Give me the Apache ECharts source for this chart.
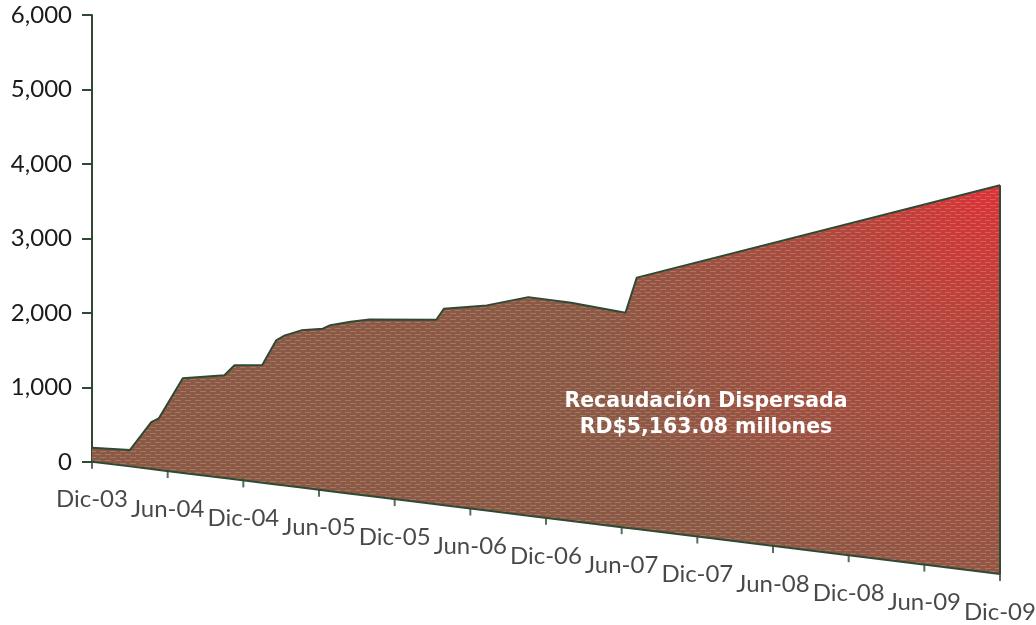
<!DOCTYPE html>
<html>
<head>
<meta charset="utf-8">
<script src="https://cdn.jsdelivr.net/npm/echarts@6/dist/echarts.min.js"></script>
<style>
  html, body { margin: 0; padding: 0; background: #ffffff; }
  #chart { width: 1036px; height: 625px; }
</style>
</head>
<body>
<div id="chart"></div>
<script>
// ---- Data ----
// month offset from Dic-03 for each data point
const meses = [0, 3.0, 4.7, 5.3, 7.2, 10.5, 11.3, 13.5, 14.6, 15.3, 16.6, 18.3, 18.9, 20.5, 22.0, 27.3, 27.9, 31.3, 34.6, 38.0, 42.3, 43.2, 72];
// accumulated dispersed collection (RD$ millones)
const recaudacion = [188, 219, 630, 693, 1271, 1380, 1533, 1580, 1934, 2017, 2112, 2169, 2230, 2309, 2372, 2478, 2638, 2755, 2935, 2932, 2886, 3377, 5222];
// x-axis tick labels, every 6 months
const etiquetas = ['Dic-03', 'Jun-04', 'Dic-04', 'Jun-05', 'Dic-05', 'Jun-06', 'Dic-06', 'Jun-07', 'Dic-07', 'Jun-08', 'Dic-08', 'Jun-09', 'Dic-09'];
const mesesEtiqueta = [0, 6, 12, 18, 24, 30, 36, 42, 48, 54, 60, 66, 72];
const yTicks = [0, 1000, 2000, 3000, 4000, 5000, 6000];
const anotacion = ['Recaudación Dispersada', 'RD$5,163.08 millones'];

// ---- Perspective geometry (drop of the slanted floor, in value units per month) ----
const CAIDA = 20.94;
const AXIS = '#2E4A35';
const FONT = 'Lato';

// [value, month] pairs; value first so that stacking happens on the value dimension
const puntosBase = meses.map(m => [-CAIDA * m, m]);
const puntosArea = meses.map((m, i) => [recaudacion[i], m]);
const puntosTick = mesesEtiqueta.map(m => [m, -CAIDA * m]);

// texture pattern
const pat = document.createElement('canvas');
pat.width = 10; pat.height = 6;
const pc = pat.getContext('2d');
pc.fillStyle = 'rgba(235,185,160,0.30)';
pc.fillRect(0, 1, 6, 1);
pc.fillRect(5, 4, 5, 1);
pc.fillRect(0, 4, 1, 1);

const chart = echarts.init(document.getElementById('chart'), null, { renderer: 'canvas' });
const last = meses.length - 1;
const enc = { x: 1, y: 0 };

chart.setOption({
  animation: false,
  grid: [
    { left: 92, top: 15, width: 908, height: 447 },
    { left: 92, top: 15, width: 908, height: 595.6 }
  ],
  xAxis: [
    { gridIndex: 0, type: 'value', min: 0, max: 72, show: false },
    { gridIndex: 1, type: 'value', min: 0, max: 72, show: false }
  ],
  yAxis: [
    {
      gridIndex: 0, type: 'value', min: 0, max: 6000, interval: 1000,
      axisLine: { show: true, lineStyle: { color: AXIS, width: 2 } },
      axisTick: { show: true, length: 10, lineStyle: { color: AXIS, width: 2 } },
      splitLine: { show: false },
      axisLabel: {
        margin: 20, fontSize: 24, fontFamily: FONT, color: '#1a1a1a',
        formatter: v => yTicks.includes(v) ? v.toLocaleString('en-US') : ''
      }
    },
    { gridIndex: 1, type: 'value', min: -2000, max: 6000, show: false }
  ],
  graphic: [
    {
      type: 'text',
      style: {
        text: anotacion[0] + '\n' + anotacion[1],
        x: 706, y: 415, align: 'center', verticalAlign: 'middle',
        fill: '#ffffff', font: 'bold 20.5px "DejaVu Sans"', lineHeight: 26
      },
      z: 100
    }
  ],
  series: [
    {
      type: 'line', xAxisIndex: 1, yAxisIndex: 1, stack: 'a', stackStrategy: 'all',
      data: puntosBase, encode: enc, showSymbol: false, z: 3,
      lineStyle: { color: AXIS, width: 2 }
    },
    {
      type: 'line', xAxisIndex: 1, yAxisIndex: 1, stack: 'a', stackStrategy: 'all',
      data: puntosArea, encode: enc, showSymbol: false, z: 2,
      lineStyle: { color: AXIS, width: 2 },
      areaStyle: {
        opacity: 1,
        color: {
          type: 'radial', x: 1, y: 0, r: 1.15,
          colorStops: [
            { offset: 0, color: '#DC3238' },
            { offset: 0.45, color: '#A94C3F' },
            { offset: 1, color: '#8A5A47' }
          ]
        }
      },
      markLine: {
        silent: true, symbol: 'none', label: { show: false },
        lineStyle: { color: AXIS, width: 2, type: 'solid' },
        data: [[
          { coord: [meses[last], recaudacion[last] - CAIDA * meses[last]] },
          { coord: [meses[last], -CAIDA * meses[last]] }
        ]]
      }
    },
    {
      type: 'line', xAxisIndex: 1, yAxisIndex: 1, stack: 'b', stackStrategy: 'all',
      data: puntosBase, encode: enc, showSymbol: false, z: 2, lineStyle: { width: 0, opacity: 0 }
    },
    {
      type: 'line', xAxisIndex: 1, yAxisIndex: 1, stack: 'b', stackStrategy: 'all',
      data: puntosArea, encode: enc, showSymbol: false, z: 2, lineStyle: { width: 0, opacity: 0 },
      areaStyle: { opacity: 1, color: { image: pat, repeat: 'repeat' } }
    },
    {
      type: 'scatter', xAxisIndex: 1, yAxisIndex: 1, data: puntosTick, z: 4,
      symbol: 'rect', symbolSize: [2, 7], symbolOffset: [0, 3.5],
      itemStyle: { color: AXIS },
      label: {
        show: true, position: 'inside', offset: [0, 34.5],
        fontSize: 24, fontFamily: FONT, color: '#1a1a1a',
        formatter: p => etiquetas[p.dataIndex]
      }
    }
  ]
});
</script>
</body>
</html>
